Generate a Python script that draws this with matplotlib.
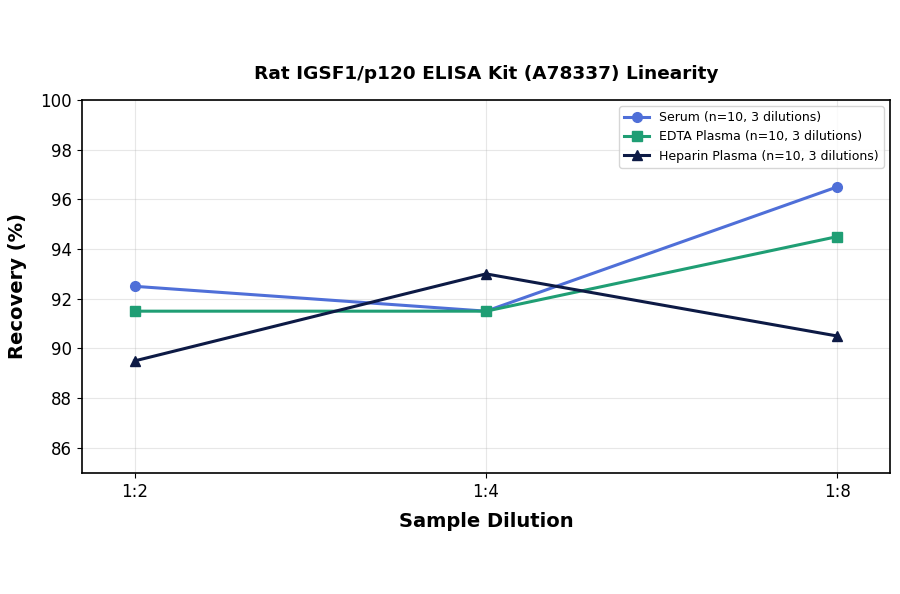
import matplotlib
matplotlib.use("Agg")
import matplotlib.pyplot as plt

# dados
diluicoes = ["1:2", "1:4", "1:8"]
serum = [92.5, 91.5, 96.5]
edta = [91.5, 91.5, 94.5]
heparina = [89.5, 93.0, 90.5]

fig, ax = plt.subplots(figsize=(9, 5.94), dpi=100)
fig.subplots_adjust(left=0.091, right=0.989, top=0.832, bottom=0.204)

x = range(len(diluicoes))
ax.plot(x, serum, color="#4f6fd8", marker="o", markersize=7, linewidth=2.2,
        label="Serum (n=10, 3 dilutions)")
ax.plot(x, edta, color="#1f9e74", marker="s", markersize=7, linewidth=2.2,
        label="EDTA Plasma (n=10, 3 dilutions)")
ax.plot(x, heparina, color="#0d1a45", marker="^", markersize=7, linewidth=2.2,
        label="Heparin Plasma (n=10, 3 dilutions)")

ax.set_xticks(list(x))
ax.set_xticklabels(diluicoes)
ax.set_xlim(-0.15, 2.15)
ax.set_ylim(85, 100)
ax.set_yticks(range(86, 101, 2))
ax.tick_params(labelsize=12)

ax.set_xlabel("Sample Dilution", fontsize=14, fontweight="bold", labelpad=8)
ax.set_ylabel("Recovery (%)", fontsize=14, fontweight="bold", labelpad=10)
ax.set_title("Rat IGSF1/p120 ELISA Kit (A78337) Linearity", fontsize=13.3,
             fontweight="bold", pad=15)

ax.grid(True, alpha=0.3)
ax.legend(loc="upper right", fontsize=9)

for s in ax.spines.values():
    s.set_linewidth(1.2)

plt.savefig("out.png", dpi=100)
plt.close()
